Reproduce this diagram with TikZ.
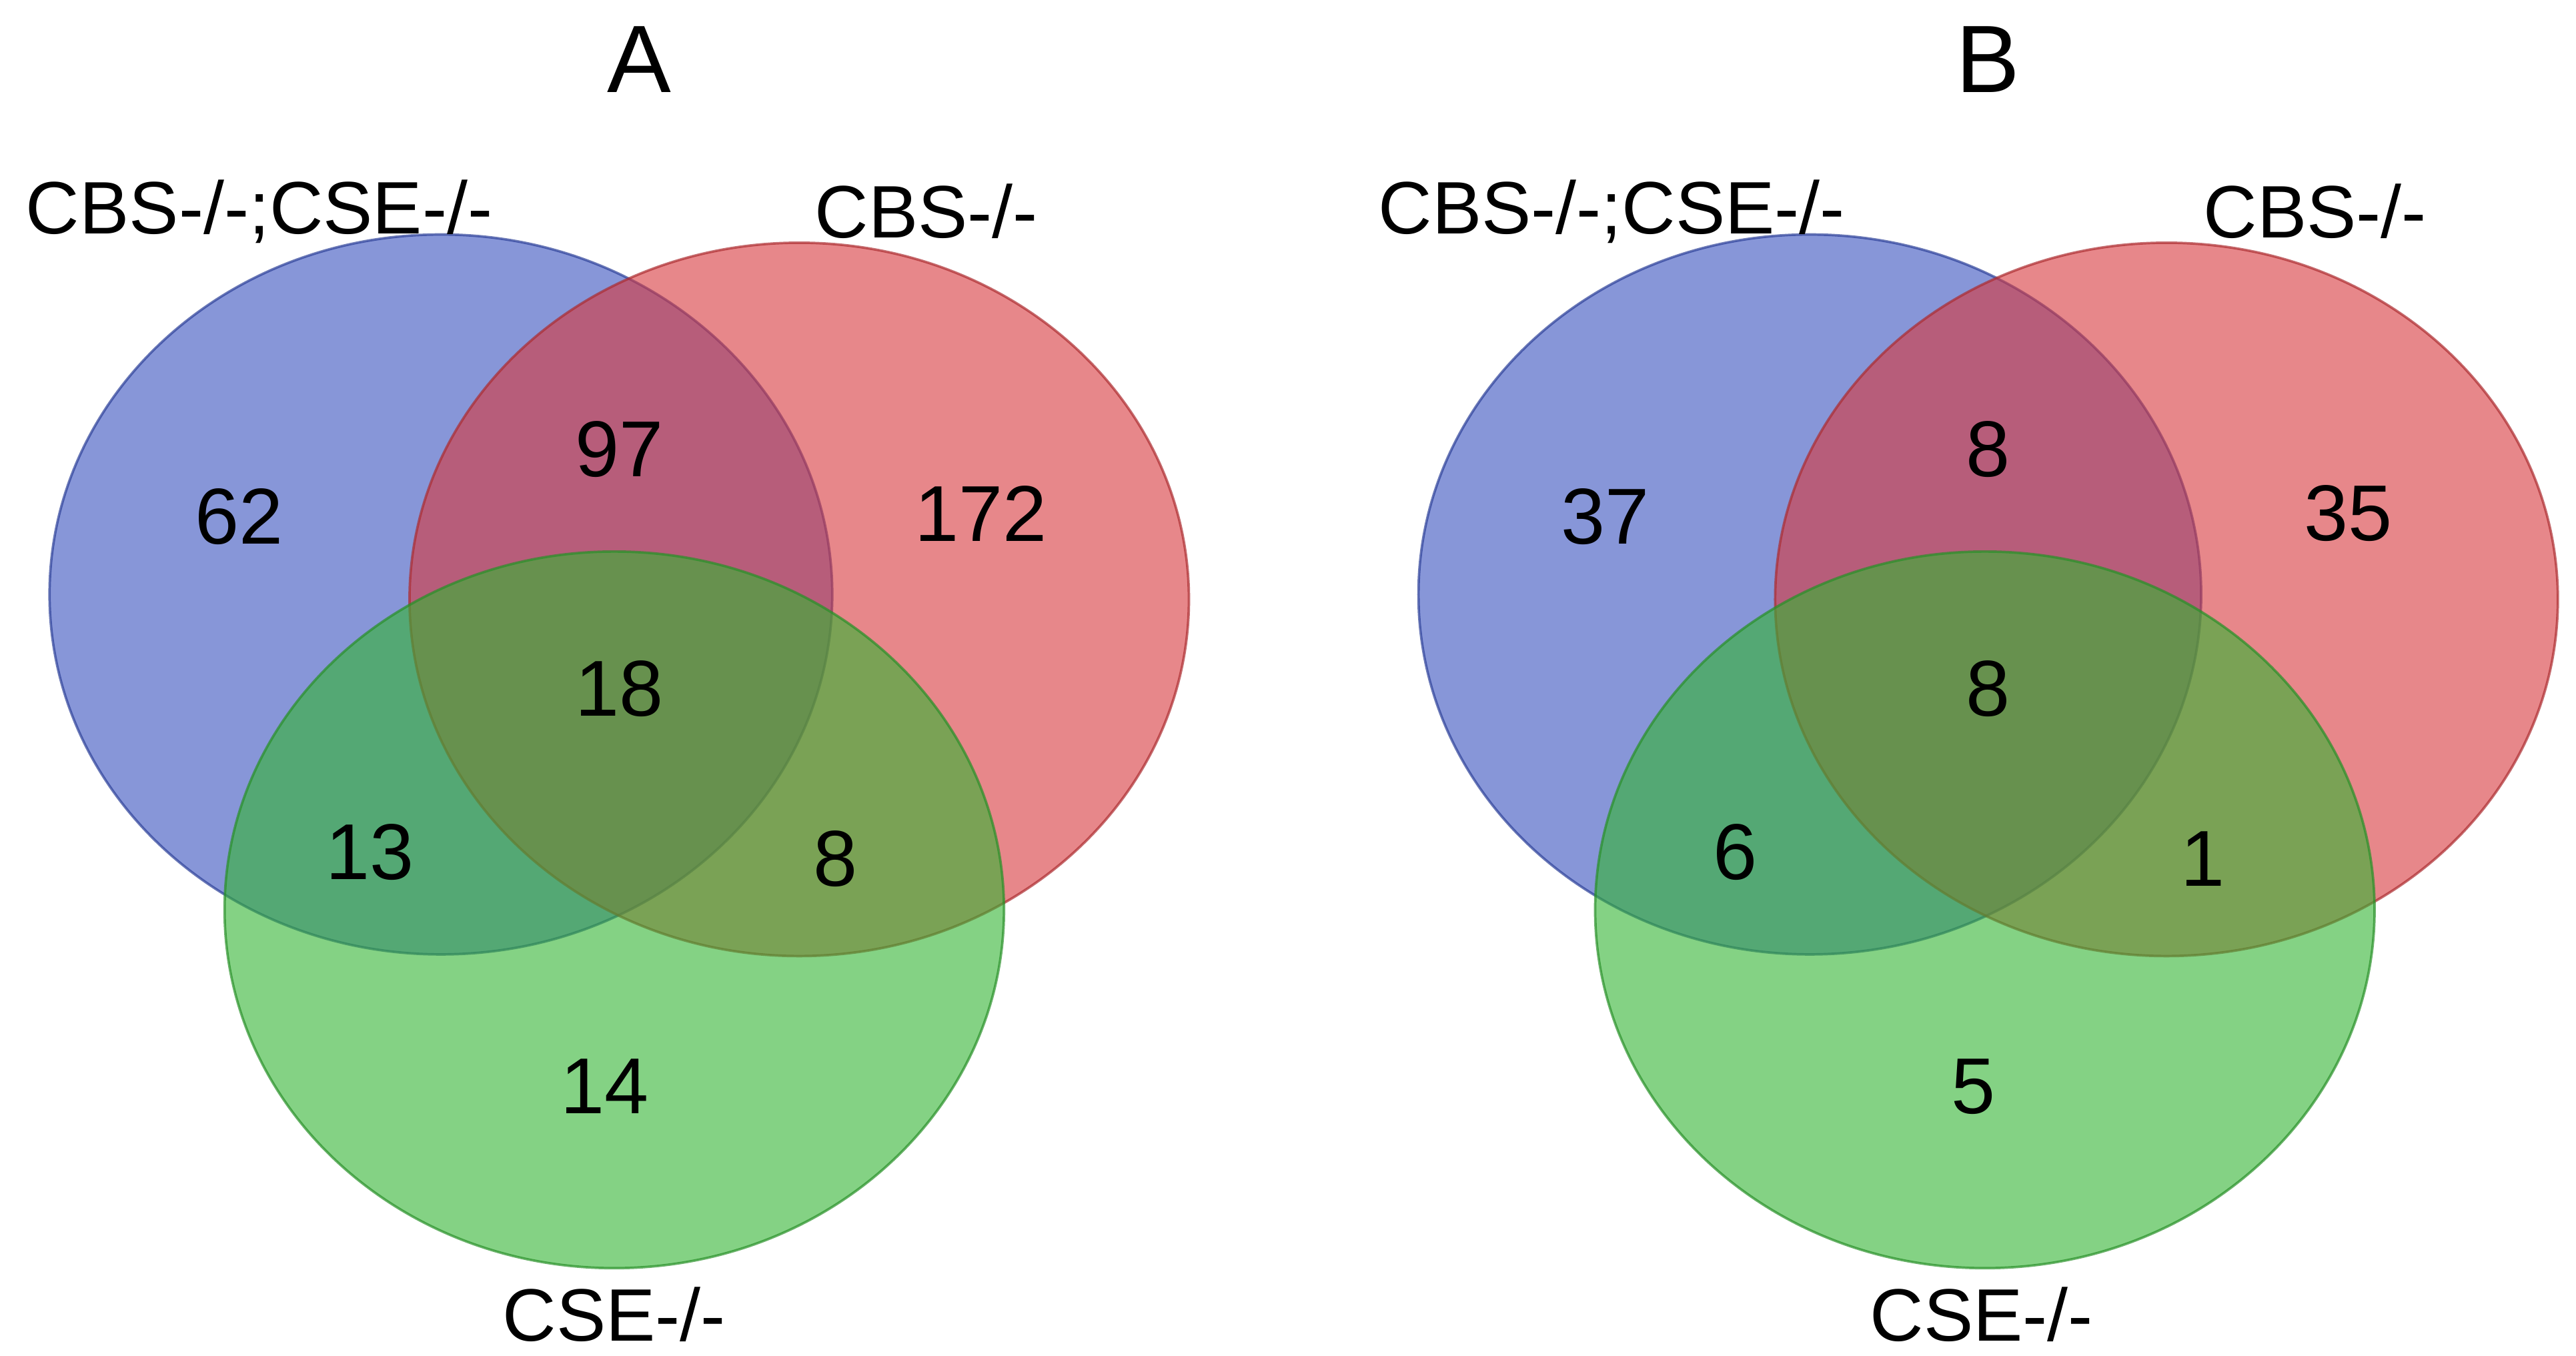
\documentclass[tikz,border=0pt]{standalone}
\usepackage{fontspec}
\setmainfont{Liberation Sans}
\begin{document}
\begin{tikzpicture}[x=1pt,y=-1pt,
  set/.style={draw=#1!80!black, line width=1.5pt, fill=#1, fill opacity=0.6, draw opacity=0.7},
  num/.style={font=\fontsize{48}{52}\selectfont, text=black},
  lab/.style={font=\fontsize{45}{48}\selectfont, text=black},
  ttl/.style={font=\fontsize{58}{62}\selectfont, text=black}]
\definecolor{vb}{RGB}{55,80,190}
\definecolor{vr}{RGB}{215,55,60}
\definecolor{vg}{RGB}{50,180,50}
\useasboundingbox (0,0) rectangle (1560,821);
\fill[white] (0,0) rectangle (1560,821);
% Panel A
\path[set=vb] (267,360) ellipse [x radius=237, y radius=218];
\path[set=vr] (484,363) ellipse [x radius=236, y radius=216];
\path[set=vg] (372,551) ellipse [x radius=236, y radius=217];
\node[ttl] (tA) at (387,36) {A};
\node[lab] (l1A) at (157,128) {CBS-/-;CSE-/-};
\node[lab] (l2A) at (561,128) {CBS-/-};
\node[lab] (l3A) at (372,796) {CSE-/-};
\node[num] (a1) at (145,313) {62};
\node[num] (a2) at (375,272) {97};
\node[num] (a3) at (594,311) {172};
\node[num] (a4) at (375,417) {18};
\node[num] (a5) at (224,516) {13};
\node[num] (a6) at (506,520) {8};
\node[num] (a7) at (366,658) {14};
% Panel B
\path[set=vb] (1096,360) ellipse [x radius=237, y radius=218];
\path[set=vr] (1312,363) ellipse [x radius=237, y radius=216];
\path[set=vg] (1202,551) ellipse [x radius=236, y radius=217];
\node[ttl] (tB) at (1204,36) {B};
\node[lab] (l1B) at (976,128) {CBS-/-;CSE-/-};
\node[lab] (l2B) at (1402,128) {CBS-/-};
\node[lab] (l3B) at (1200,796) {CSE-/-};
\node[num] (b1) at (972,313) {37};
\node[num] (b2) at (1204,272) {8};
\node[num] (b3) at (1422,311) {35};
\node[num] (b4) at (1204,417) {8};
\node[num] (b5) at (1051,516) {6};
\node[num] (b6) at (1334,520) {1};
\node[num] (b7) at (1195,658) {5};
\end{tikzpicture}
\end{document}
